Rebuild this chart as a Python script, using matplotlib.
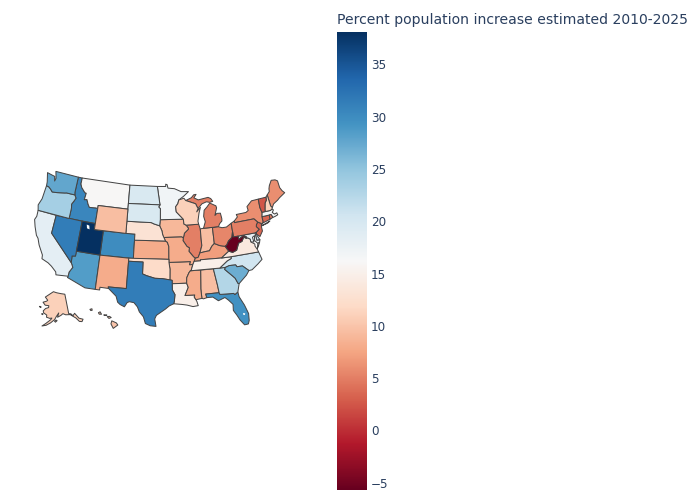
import numpy as np
import matplotlib
matplotlib.use("Agg")
import matplotlib.pyplot as plt
from matplotlib.colors import LinearSegmentedColormap, Normalize
from matplotlib.cm import ScalarMappable

TITLE = "Percent population increase estimated 2010-2025"
states = ["AL","AK","AZ","AR","CA","CO","CT","DE","FL","GA","HI","ID","IL","IN","IA","KS","KY","LA","ME","MD","MA","MI","MN","MS","MO","MT","NE","NV","NH","NJ","NM","NY","NC","ND","OH","OK","OR","PA","RI","SC","SD","TN","TX","UT","VT","VA","WA","WV","WI","WY"]
pct = [9.5,11,28.5,9,18.4,30,3.5,21,29.5,22.7,10,30.5,5,9.5,9,8,7,15,6,18,16.5,5,17,8,8,16,13,31.5,11,3.5,8,6,20.5,19.7,5.5,12,23.6,5,5,27,19.7,15,31.5,38.1,2.5,14,27.6,-5.7,11,9.5]
cticks = [-5,0,5,10,15,20,25,30,35]
color_stops = ["#67001f","#b2182b","#d6604d","#f4a582","#fddbc7","#f7f7f7","#d1e5f0","#92c5de","#4393c3","#2166ac","#053061"]

OUTLINES = {
"WA":[[(-124.7,48.4),(-123.2,48.2),(-122.75,48.15),(-122.45,47.4),(-122.3,47.9),(-122.8,49.0),(-117.03,49.0),(-117.04,46.4),(-116.92,45.99),(-118.98,46.0),(-119.3,45.93),(-121.2,45.65),(-122.3,45.55),(-122.8,45.9),(-123.4,46.2),(-124.0,46.27),(-124.1,46.9)]],
"OR":[[(-124.0,46.27),(-123.4,46.2),(-122.8,45.9),(-122.3,45.55),(-121.2,45.65),(-119.3,45.93),(-118.98,46.0),(-116.92,45.99),(-116.5,45.5),(-116.85,44.9),(-117.2,44.4),(-117.03,43.8),(-117.03,42.0),(-124.2,42.0),(-124.55,42.85),(-124.1,44.0)]],
"CA":[[(-124.2,42),(-120,42),(-120,39),(-114.63,35.0),(-114.15,34.3),(-114.7,33.4),(-114.72,32.72),(-117.12,32.53),(-117.3,33.0),(-118.4,33.75),(-119.2,34.15),(-120.6,34.55),(-120.7,35.15),(-121.9,36.6),(-122.5,37.6),(-123.0,38.0),(-123.8,39.3),(-124.35,40.4),(-124.1,41.0)]],
"NV":[[(-120,42),(-114.04,42),(-114.04,36.2),(-114.74,36.1),(-114.63,35),(-120,39)]],
"ID":[[(-117.03,49),(-116.05,49),(-116.05,48),(-115.7,47.45),(-114.7,46.7),(-114.35,46.65),(-114.5,45.55),(-113.9,45.65),(-113.45,44.95),(-113,44.45),(-111.5,44.55),(-111.05,44.48),(-111.05,42),(-117.03,42),(-117.03,43.8),(-117.2,44.4),(-116.85,44.9),(-116.5,45.5),(-116.92,45.99),(-117.04,46.4)]],
"MT":[[(-116.05,49),(-104.05,49),(-104.05,45),(-111.05,45),(-111.05,44.48),(-111.5,44.55),(-113,44.45),(-113.45,44.95),(-113.9,45.65),(-114.5,45.55),(-114.35,46.65),(-114.7,46.7),(-115.7,47.45),(-116.05,48)]],
"WY":[[(-111.05,45),(-104.05,45),(-104.05,41),(-111.05,41)]],
"UT":[[(-114.05,42),(-111.05,42),(-111.05,41),(-109.05,41),(-109.05,37),(-114.05,37)]],
"CO":[[(-109.05,41),(-102.05,41),(-102.05,37),(-109.05,37)]],
"AZ":[[(-114.05,37),(-109.05,37),(-109.05,31.33),(-111.07,31.33),(-114.8,32.5),(-114.72,32.72),(-114.7,33.4),(-114.15,34.3),(-114.63,35),(-114.74,36.1),(-114.04,36.2)]],
"NM":[[(-109.05,37),(-103,37),(-103.05,32),(-106.6,32),(-106.5,31.75),(-108.2,31.78),(-108.2,31.33),(-109.05,31.33)]],
"ND":[[(-104.05,49),(-97.23,49),(-96.55,45.94),(-104.05,45.94)]],
"SD":[[(-104.05,45.94),(-96.55,45.94),(-96.85,45.6),(-96.45,45.3),(-96.45,43.5),(-96.6,42.5),(-97.9,42.8),(-98.5,43),(-104.05,43)]],
"NE":[[(-104.05,43),(-98.5,43),(-97.9,42.8),(-96.6,42.5),(-96.1,41.7),(-95.9,41),(-95.3,40),(-102.05,40),(-102.05,41),(-104.05,41)]],
"KS":[[(-102.05,40),(-95.3,40),(-94.9,39.8),(-94.6,39.1),(-94.62,37),(-102.05,37)]],
"OK":[[(-103,37),(-94.62,37),(-94.62,36.5),(-94.43,35.4),(-94.48,33.64),(-96,33.85),(-97.5,33.9),(-99.2,34.3),(-100,34.56),(-100,36.5),(-103,36.5)]],
"TX":[[(-106.6,32),(-103.05,32),(-103,36.5),(-100,36.5),(-100,34.56),(-99.2,34.3),(-97.5,33.9),(-96,33.85),(-94.48,33.64),(-94.04,33.55),(-94.04,33),(-94.04,31.99),(-93.55,31.2),(-93.7,30.1),(-93.84,29.7),(-94.7,29.35),(-95.4,28.85),(-97.1,27.8),(-97.4,27.2),(-97.15,25.96),(-98.2,26.05),(-99.1,26.4),(-99.5,27.5),(-100.3,28.3),(-100.7,29.1),(-101.4,29.77),(-102.3,29.88),(-102.7,29.7),(-103.15,28.98),(-104,29.3),(-104.5,29.65),(-104.9,30.6),(-106.5,31.75)]],
"MN":[[(-97.23,49),(-95.15,49),(-95.15,49.38),(-94.8,49.3),(-94.6,48.72),(-93,48.6),(-91.4,48.07),(-89.6,48),(-90.8,47.3),(-92.05,46.7),(-92.3,46.1),(-92.85,45.6),(-92.75,44.75),(-91.2,43.5),(-96.45,43.5),(-96.45,45.3),(-96.85,45.6),(-96.55,45.94)]],
"IA":[[(-96.45,43.5),(-91.2,43.5),(-91.1,42.7),(-90.64,42.5),(-90.15,41.95),(-90.2,41.8),(-91.1,41.2),(-91.4,40.4),(-91.72,40.6),(-95.75,40.58),(-95.9,41),(-96.1,41.7),(-96.6,42.5)]],
"MO":[[(-95.75,40.58),(-91.72,40.6),(-91.4,40.4),(-91.5,40.0),(-90.7,39),(-90.2,38.75),(-90.35,38.2),(-89.5,37.3),(-89.15,37),(-89.4,36.5),(-89.7,36),(-90.37,36),(-90.15,36.5),(-94.62,36.5),(-94.62,37),(-94.6,39.1),(-94.9,39.8),(-95.3,40)]],
"AR":[[(-94.62,36.5),(-90.15,36.5),(-90.37,36),(-89.7,36),(-90.1,35.1),(-90.6,34.7),(-91.1,33.9),(-91.17,33),(-94.04,33),(-94.04,33.55),(-94.48,33.64),(-94.43,35.4)]],
"LA":[[(-94.04,33),(-91.17,33),(-90.9,32.3),(-91.6,31),(-89.73,31),(-89.85,30.67),(-89.55,30.2),(-89.4,29.9),(-89.2,29.2),(-90.2,29.1),(-91.3,29.4),(-92.3,29.55),(-93.84,29.7),(-93.7,30.1),(-93.55,31.2),(-94.04,31.99)]],
"WI":[[(-92.05,46.7),(-90.8,46.95),(-90.4,46.55),(-88.1,45.9),(-87.8,45.35),(-87.6,45.1),(-88,44.55),(-87.05,45.25),(-87.5,44.3),(-87.9,43),(-87.8,42.5),(-90.64,42.5),(-91.1,42.7),(-91.2,43.5),(-92.75,44.75),(-92.85,45.6),(-92.3,46.1)]],
"IL":[[(-90.64,42.5),(-87.8,42.5),(-87.53,41.7),(-87.53,39.35),(-87.5,39),(-88.05,37.8),(-88.5,37.1),(-89.15,37),(-89.5,37.3),(-90.35,38.2),(-90.2,38.75),(-90.7,39),(-91.5,40),(-91.4,40.4),(-91.1,41.2),(-90.2,41.8),(-90.15,41.95)]],
"IN":[[(-87.53,41.7),(-87.2,41.75),(-86.8,41.76),(-84.8,41.76),(-84.8,39.1),(-85.4,38.7),(-86.0,38.0),(-86.8,37.95),(-88.05,37.8),(-87.5,39),(-87.53,39.35)]],
"OH":[[(-84.8,41.7),(-83.45,41.73),(-82.7,41.5),(-81.7,41.5),(-80.52,42),(-80.52,40.64),(-80.85,39.7),(-81.7,39.2),(-82.2,38.6),(-82.6,38.42),(-83.7,38.65),(-84.8,39.1)]],
"KY":[[(-89.4,36.5),(-89.15,37),(-88.5,37.1),(-88.05,37.8),(-86.8,37.95),(-86,38),(-85.4,38.7),(-84.8,39.1),(-83.7,38.65),(-82.6,38.42),(-81.97,37.54),(-83.68,36.6),(-88.07,36.68),(-88.07,36.5)]],
"TN":[[(-89.7,36),(-89.4,36.5),(-88.07,36.5),(-88.07,36.68),(-83.68,36.6),(-81.68,36.59),(-81.7,36.3),(-82.6,36.0),(-84.3,35.0),(-90.3,35.0),(-90.1,35.1)]],
"MS":[[(-90.3,35),(-88.2,35),(-88.47,31.9),(-88.4,30.35),(-89.55,30.2),(-89.85,30.67),(-89.73,31),(-91.6,31),(-90.9,32.3),(-91.17,33),(-91.1,33.9),(-90.6,34.7)]],
"AL":[[(-88.2,35),(-85.6,35),(-85.15,32.3),(-85.0,31),(-87.6,31),(-87.45,30.4),(-88.1,30.25),(-88.4,30.35),(-88.47,31.9)]],
"GA":[[(-85.6,35),(-83.1,35),(-83.35,34.7),(-81.9,33.4),(-81.5,33.0),(-81.1,32.1),(-80.9,32.03),(-81.4,30.7),(-82.05,30.36),(-82.2,30.57),(-84.86,30.7),(-85,31),(-85.15,32.3)]],
"FL":[[(-87.6,31),(-85,31),(-84.86,30.7),(-82.2,30.57),(-82.05,30.36),(-81.4,30.7),(-81.3,29.9),(-80.55,28.4),(-80.05,26.9),(-80.15,25.75),(-80.4,25.2),(-81.1,25.15),(-81.8,26.1),(-82.2,26.9),(-82.75,27.8),(-82.65,28.8),(-83.4,29.6),(-84.0,30.1),(-85.3,29.7),(-86.3,30.4),(-87.45,30.4)]],
"SC":[[(-83.35,34.7),(-83.1,35),(-82.3,35.2),(-81,35.15),(-80.8,34.82),(-79.67,34.8),(-78.55,33.87),(-79.2,33.2),(-80.9,32.03),(-81.1,32.1),(-81.5,33),(-81.9,33.4)]],
"NC":[[(-84.3,35),(-82.6,36),(-81.7,36.3),(-81.68,36.59),(-75.87,36.55),(-75.5,35.25),(-76.5,34.65),(-77.9,33.9),(-78.55,33.87),(-79.67,34.8),(-80.8,34.82),(-81,35.15),(-82.3,35.2),(-83.1,35)]],
"VA":[[(-83.68,36.6),(-81.68,36.59),(-75.87,36.55),(-76,36.95),(-76.35,37.6),(-76.3,37.95),(-77.05,38.4),(-77.05,38.85),(-77.5,39.12),(-77.83,39.13),(-78.35,39.4),(-78.87,38.77),(-79.65,38.58),(-80.3,37.5),(-81.2,37.25),(-81.97,37.54)],[(-75.95,37.15),(-75.6,37.55),(-75.25,38.03),(-75.65,37.95)]],
"WV":[[(-82.6,38.42),(-82.2,38.6),(-81.7,39.2),(-80.85,39.7),(-80.52,40.64),(-80.52,39.72),(-79.48,39.72),(-79.48,39.2),(-78.35,39.65),(-77.72,39.32),(-77.83,39.13),(-78.35,39.4),(-78.87,38.77),(-79.65,38.58),(-80.3,37.5),(-81.2,37.25),(-81.97,37.54)]],
"PA":[[(-80.52,42),(-79.76,42.27),(-79.76,42),(-75.35,42),(-74.7,41.36),(-75.1,40.95),(-75.2,40.65),(-74.72,40.15),(-75.4,39.8),(-75.79,39.72),(-80.52,39.72)]],
"NY":[[(-79.76,42.27),(-78.9,42.85),(-79.05,43.27),(-76.8,43.3),(-76.2,43.55),(-76.3,44.2),(-75,44.98),(-73.35,45),(-73.45,43.6),(-73.25,42.75),(-73.5,42.05),(-73.5,41.3),(-73.65,41.0),(-74.0,40.7),(-73.95,41.0),(-74.7,41.36),(-75.35,42),(-79.76,42)],[(-74.0,40.6),(-72,41.05),(-72.6,40.8)]],
"NJ":[[(-74.7,41.36),(-73.95,41.0),(-74.1,40.5),(-74.1,39.75),(-74.9,38.95),(-75.5,39.5),(-75.4,39.8),(-74.72,40.15),(-75.2,40.65),(-75.1,40.95)]],
"DE":[[(-75.79,39.72),(-75.4,39.8),(-75.55,39.45),(-75.05,38.45),(-75.7,38.45)]],
"MD":[[(-79.48,39.72),(-75.79,39.72),(-75.7,38.45),(-75.05,38.45),(-75.25,38.03),(-75.65,37.95),(-76.2,38.5),(-76.0,39.3),(-76.5,39.1),(-76.4,38.3),(-77.05,38.4),(-77.05,38.85),(-77.5,39.12),(-77.83,39.13),(-77.72,39.32),(-78.35,39.65),(-79.48,39.2)]],
"CT":[[(-73.5,42.05),(-71.8,42.02),(-71.85,41.32),(-73.65,41.0),(-73.5,41.3)]],
"RI":[[(-71.8,42.02),(-71.38,42.02),(-71.15,41.5),(-71.85,41.32)]],
"MA":[[(-73.25,42.75),(-71.3,42.7),(-70.85,42.87),(-70.6,42.65),(-71.0,42.3),(-70.6,41.95),(-70.05,42.05),(-69.95,41.7),(-70.65,41.55),(-71.15,41.5),(-71.38,42.02),(-71.8,42.02),(-73.5,42.05)]],
"VT":[[(-73.35,45),(-71.5,45),(-71.6,44.5),(-72.05,44.1),(-72.45,43),(-72.46,42.73),(-73.25,42.75),(-73.45,43.6)]],
"NH":[[(-71.5,45),(-71.08,45.3),(-70.98,43.4),(-70.7,43.07),(-70.85,42.87),(-71.3,42.7),(-72.46,42.73),(-72.45,43),(-72.05,44.1),(-71.6,44.5)]],
"ME":[[(-71.08,45.3),(-70.4,45.75),(-70.3,46.2),(-70,46.7),(-69.23,47.46),(-68.3,47.35),(-67.8,47.07),(-67.78,45.9),(-67.45,45.3),(-67,44.85),(-68.5,44.3),(-69.1,44),(-70.2,43.6),(-70.7,43.07),(-70.98,43.4)]],
"MI":[[(-86.8,41.76),(-84.8,41.76),(-83.45,41.73),(-83.1,42.2),(-82.5,42.6),(-82.45,43),(-82.6,43.9),(-83.4,43.95),(-83.9,43.65),(-83.3,44.85),(-83.4,45.2),(-84.75,45.78),(-85.5,45.2),(-86.25,44.7),(-86.5,43.7),(-86.25,42.8)],[(-90.4,46.55),(-89,46.95),(-88.4,47.4),(-87.8,47.45),(-88.4,46.9),(-87.4,46.5),(-85,46.75),(-84.4,46.5),(-84,46),(-84.75,45.9),(-85.5,46.05),(-86.6,45.8),(-87.6,45.1),(-87.8,45.35),(-88.1,45.9)]],
"AK":[[(-141,69.65),(-141,60.3),(-139.0,60),(-137.5,58.9),(-135.5,59.8),(-133,57.0),(-130,55.9),(-131.5,55),(-133.5,55.5),(-135.5,57.5),(-137,58.3),(-139.8,59.7),(-144,60),(-146.5,60.7),(-148.5,60),(-151.8,59.2),(-150.5,61.2),(-153,59.5),(-154.5,58.1),(-158,56.5),(-161.5,55.2),(-164.8,54.6),(-162,56.0),(-158,58),(-157,58.8),(-159,58.6),(-162,59),(-162,60),(-165.2,60.8),(-166,61.7),(-164,63),(-161,63.6),(-161,64.5),(-165,64.5),(-168,65.7),(-164,66.5),(-163,67),(-166.5,68.3),(-163,69.5),(-156.5,71.3),(-152,70.8),(-146,70.2)],[(-154.6,57.4),(-153.2,57.9),(-152.3,57.6),(-153.8,56.9)],[(-167,60.2),(-165.6,60.3),(-166,59.9)],[(-170.8,63.4),(-168.8,63.3),(-169.6,63.0)]],
"HI":[[(-155.9,20.2),(-155.1,19.85),(-154.85,19.5),(-155.65,18.95),(-156.05,19.7)],[(-156.7,20.9),(-156.3,20.95),(-156.0,20.75),(-156.4,20.6)],[(-158.25,21.55),(-157.95,21.7),(-157.7,21.3),(-158.1,21.3)],[(-159.75,22.1),(-159.4,22.2),(-159.35,21.95),(-159.6,21.9)],[(-157.3,21.2),(-156.75,21.15),(-157.2,21.08)]],
}
LAKES = [[(-112.9,41.6),(-112.3,41.5),(-112.1,40.9),(-112.7,41.0)],[(-81.0,27.15),(-80.65,27.0),(-80.8,26.75),(-81.1,26.9)]]

# Albers USA composite, same parameters as the usual geo scale
def conic(lon, lat, lon0, lon_c, lat_c, p1, p2):
    lon, lat = np.radians(lon), np.radians(lat)
    p1, p2, lat_c = np.radians(p1), np.radians(p2), np.radians(lat_c)
    n = (np.sin(p1) + np.sin(p2)) / 2
    c = np.cos(p1) ** 2 + 2 * n * np.sin(p1)
    rho = lambda phi: np.sqrt(c - 2 * n * np.sin(phi)) / n
    th = n * (lon - np.radians(lon0))
    th_c = n * np.radians(lon_c)
    x = rho(lat) * np.sin(th) - rho(lat_c) * np.sin(th_c)
    y = rho(lat) * np.cos(th) - rho(lat_c) * np.cos(th_c)
    return x, y

def project(state, pts):
    a = np.array(pts, float)
    lon, lat = a[:, 0], a[:, 1]
    if state == "AK":
        x, y = conic(lon, lat, -154, -2, 58.5, 55, 65)
        return x * 0.35 - 0.307, y * 0.35 + 0.201
    if state == "HI":
        x, y = conic(lon, lat, -157, -3, 19.9, 8, 18)
        return x - 0.205, y + 0.212
    return conic(lon, lat, -96, -0.6, 38.7, 29.5, 45.5)

K, TX_, TY_ = 347.0, 159.5, 249.0
MAP_W, MAP_H = 330.0, 500.0

cmap = LinearSegmentedColormap.from_list("RdBu_px", color_stops, N=512)
norm = Normalize(-5.7, 38.1)

fig = plt.figure(figsize=(7, 5), dpi=100, facecolor="white")
ax = fig.add_axes([0, 0, MAP_W / 700, 1])
ax.set_xlim(-TX_ / K, (MAP_W - TX_) / K)
ax.set_ylim((MAP_H - TY_) / K, -TY_ / K)
ax.axis("off")

for st, v in zip(states, pct):
    for part in OUTLINES[st]:
        x, y = project(st, part)
        ax.fill(x, y, facecolor=cmap(norm(v)), edgecolor="#444444", linewidth=0.72, joinstyle="round")
for lake in LAKES:
    x, y = project("US", lake)
    ax.fill(x, y, facecolor="white", edgecolor="none")

cax = fig.add_axes([337 / 700, 10 / 500, 30 / 700, 458 / 500])
cb = fig.colorbar(ScalarMappable(norm=norm, cmap=cmap), cax=cax, ticks=cticks)
cb.outline.set_visible(False)
cb.ax.tick_params(length=0, pad=3, labelsize=8.64, labelcolor="#2a3f5f")
for lab in cb.ax.get_yticklabels():
    lab.set_fontfamily("DejaVu Sans")
fig.text(337 / 700, 1 - 24 / 500, TITLE, fontsize=10.1, color="#2a3f5f", ha="left", va="baseline", family="DejaVu Sans")

fig.savefig("out.png", dpi=100)
